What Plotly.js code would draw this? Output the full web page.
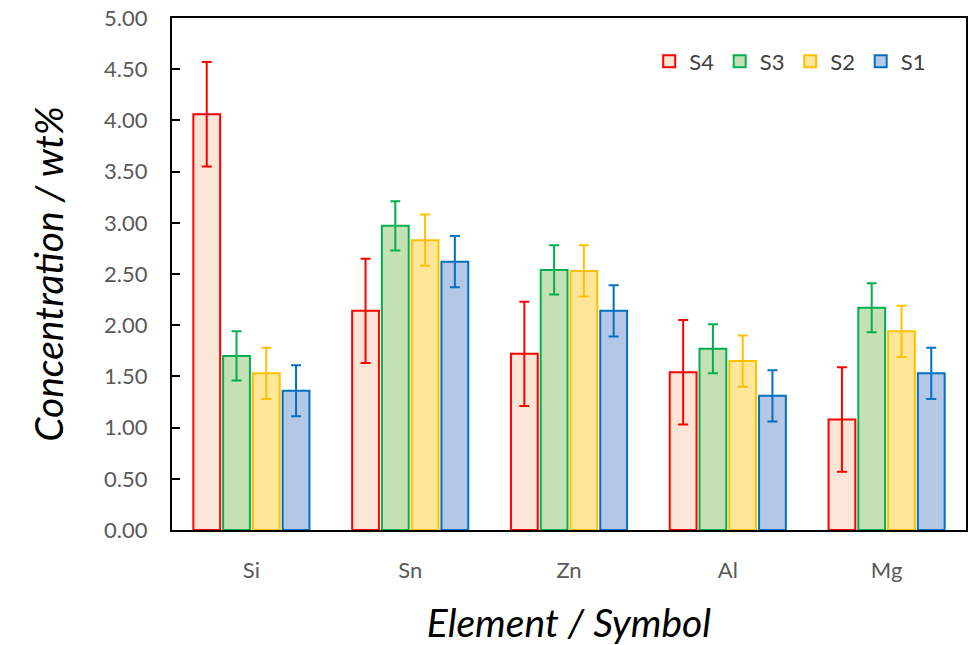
<!DOCTYPE html>
<html>
<head>
<meta charset="utf-8">
<script src="https://cdn.plot.ly/plotly-3.0.1.min.js"></script>
<style>html,body{margin:0;padding:0;background:#fff;}#chart{width:974px;height:645px;}</style>
</head>
<body>
<div id="chart"></div>
<script>
const categories = ["Si", "Sn", "Zn", "Al", "Mg"];
const seriesNames = ["S4", "S3", "S2", "S1"];
const S4 = [4.06, 2.14, 1.72, 1.54, 1.08];
const S3 = [1.70, 2.97, 2.54, 1.77, 2.17];
const S2 = [1.53, 2.83, 2.53, 1.65, 1.94];
const S1 = [1.36, 2.62, 2.14, 1.31, 1.53];
const S4err = [0.51, 0.51, 0.51, 0.51, 0.51];
const S3err = [0.24, 0.24, 0.24, 0.24, 0.24];
const S2err = [0.25, 0.25, 0.25, 0.25, 0.25];
const S1err = [0.25, 0.25, 0.25, 0.25, 0.25];
const yTicks = [0, 0.5, 1, 1.5, 2, 2.5, 3, 3.5, 4, 4.5, 5];
const yTickText = ["0.00","0.50","1.00","1.50","2.00","2.50","3.00","3.50","4.00","4.50","5.00"];

const values = [S4, S3, S2, S1];
const errs = [S4err, S3err, S2err, S1err];
const fills = ["#FBE5D6", "#C5E0B4", "#FFE699", "#B4C7E7"];
const lines = ["#FF0000", "#00B050", "#FFC000", "#0070C0"];

const traces = seriesNames.map((n, i) => ({
  type: "bar",
  name: n,
  x: categories,
  y: values[i],
  marker: {color: fills[i], line: {color: lines[i], width: 2}},
  error_y: {type: "data", array: errs[i], visible: true, color: lines[i], thickness: 2, width: 5}
}));

const font = "Lato, 'Open Sans', sans-serif";
const layout = {
  width: 974, height: 645,
  margin: {l: 172, r: 8, t: 18, b: 115, autoexpand: false},
  paper_bgcolor: "#fff", plot_bgcolor: "#fff",
  font: {family: font, color: "#595959", size: 22},
  barmode: "group", bargap: 0.25, bargroupgap: 0.1,
  showlegend: true,
  legend: {orientation: "h", x: 0.601, xanchor: "left", y: 0.915, yanchor: "middle",
           font: {size: 22, color: "#404040", family: font}, bgcolor: "rgba(0,0,0,0)",
           entrywidth: 25.5, entrywidthmode: "pixels", traceorder: "normal"},
  xaxis: {showline: true, linecolor: "#000", linewidth: 2, mirror: true, ticks: "",
          tickfont: {size: 22, color: "#595959"}, ticklabelstandoff: 20,
          title: {text: "<i>Element / Symbol</i>", font: {size: 39, color: "#000", family: font}, standoff: 28}},
  yaxis: {range: [0, 5], tickvals: yTicks, ticktext: yTickText, showgrid: false, zeroline: false,
          showline: true, linecolor: "#000", linewidth: 2, mirror: true,
          ticks: "inside", ticklen: 8, tickwidth: 2, tickcolor: "#000",
          tickfont: {size: 22, color: "#595959"}, ticklabelstandoff: 18,
          title: {text: "<i>Concentration / wt%</i>", font: {size: 39, color: "#000", family: font}, standoff: 28}}
};

Plotly.newPlot("chart", traces, layout, {displayModeBar: false, staticPlot: true});
</script>
</body>
</html>
